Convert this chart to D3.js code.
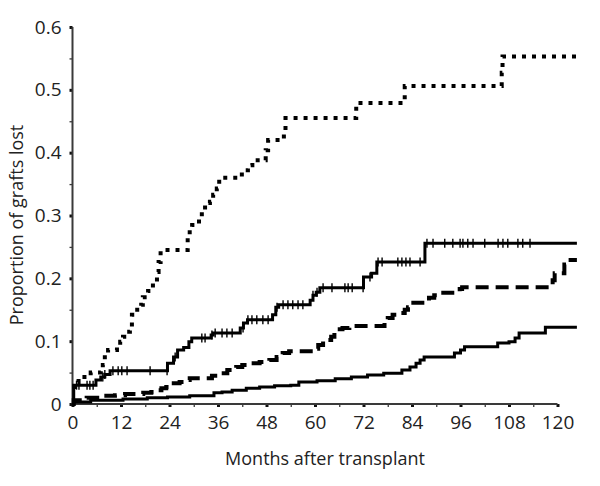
<!DOCTYPE html>
<html>
<head>
<meta charset="utf-8">
<script src="https://cdn.jsdelivr.net/npm/d3@7/dist/d3.min.js"></script>
<style>
  html, body { margin: 0; padding: 0; background: #fff; }
  svg { display: block; }
  text { font-family: "Open Sans", "Noto Sans", sans-serif; fill: #222; }
</style>
</head>
<body>
<svg id="chart" width="600" height="486"></svg>
<script>
// ---------- data (months, proportion) ----------
const xTickLabels = [0, 12, 24, 36, 48, 60, 72, 84, 96, 108, 120];
const yTickLabels = [0, 0.1, 0.2, 0.3, 0.4, 0.5, 0.6];
const endMonth = 124.8;

// dotted series (highest)
const dottedT = [0, 0.5, 1.5, 4.5, 7, 7.5, 8.0, 8.8, 11, 11.8, 12.5, 13.5, 14.2, 14.7, 15.5, 17.0, 17.4, 18.7, 19.9, 20.9, 21.3, 21.8, 28.5, 29.0, 29.6, 31.3, 32.0, 32.8, 34.0, 34.8, 35.7, 36.3, 41.9, 43.4, 44.5, 47.8, 48.4, 52.3, 52.7, 70.2, 82.2, 106.2, 106.4];
const dottedV = [0.027, 0.035, 0.043, 0.05, 0.057, 0.062, 0.078, 0.086, 0.09, 0.099, 0.107, 0.115, 0.123, 0.142, 0.15, 0.158, 0.17, 0.18, 0.194, 0.21, 0.226, 0.245, 0.264, 0.28, 0.285, 0.296, 0.306, 0.32, 0.322, 0.333, 0.343, 0.36, 0.372, 0.38, 0.388, 0.404, 0.42, 0.436, 0.455, 0.479, 0.506, 0.527, 0.553];

// solid series with censor marks
const censT = [0, 0.3, 5.8, 7.0, 8.0, 9.3, 23.5, 25.0, 26.0, 27.5, 28.8, 29.5, 34.3, 34.8, 41.5, 42.3, 43.3, 49.5, 50.3, 51.0, 58.8, 59.5, 60.3, 61.2, 72.0, 74.0, 75.3, 87.2];
const censV = [0, 0.030, 0.038, 0.043, 0.047, 0.053, 0.065, 0.075, 0.086, 0.09, 0.099, 0.105, 0.11, 0.113, 0.121, 0.129, 0.134, 0.142, 0.154, 0.158, 0.165, 0.173, 0.178, 0.185, 0.202, 0.208, 0.226, 0.256];
const censMarks = [1.0, 1.6, 3.6, 4.3, 5.1, 7.5, 8.0, 10.0, 11.3, 12.2, 13.5, 19.2, 23.4, 25.4, 32.0, 32.8, 34.5, 35.3, 37.0, 38.2, 39.5, 42.2, 43.4, 44.4, 45.6, 47.1, 48.4, 50.6, 52.1, 53.3, 54.5, 55.8, 57.0, 59.5, 60.5, 62.0, 64.2, 67.4, 68.2, 69.2, 71.9, 73.6, 75.6, 76.6, 80.5, 81.5, 82.5, 83.5, 86.0, 87.7, 89.2, 92.1, 94.1, 95.9, 96.6, 97.8, 99.1, 102.0, 105.3, 106.5, 107.7, 110.2, 111.4, 113.2];

// dashed series
const dashedT = [0, 0.3, 3.5, 7.0, 10.5, 13.0, 17.5, 19.5, 21.0, 22.0, 23.2, 24.5, 26.5, 27.5, 29.0, 34.5, 36.3, 38.3, 40.5, 42.0, 43.7, 46.3, 48.7, 50.5, 52.0, 53.6, 59.8, 60.8, 62.0, 64.0, 64.8, 65.6, 66.8, 68.5, 77.2, 78.0, 79.2, 80.8, 82.2, 83.0, 83.8, 88.2, 89.5, 90.3, 95.8, 96.4, 118.8, 119.3, 121.7, 122.2];
const dashedV = [0, 0.006, 0.01, 0.013, 0.014, 0.016, 0.018, 0.019, 0.022, 0.025, 0.027, 0.033, 0.035, 0.038, 0.041, 0.045, 0.049, 0.054, 0.059, 0.062, 0.065, 0.067, 0.07, 0.075, 0.081, 0.084, 0.088, 0.094, 0.102, 0.107, 0.115, 0.119, 0.121, 0.124, 0.129, 0.137, 0.142, 0.145, 0.15, 0.154, 0.161, 0.169, 0.173, 0.177, 0.183, 0.186, 0.197, 0.208, 0.222, 0.229];

// lowest solid series
const lowT = [0, 0.3, 4.5, 12.5, 18.5, 23.5, 29.0, 35.0, 37.0, 39.5, 43.0, 46.3, 50.0, 54.0, 56.0, 60.5, 65.0, 69.0, 73.0, 77.0, 81.5, 83.5, 85.0, 86.0, 87.0, 94.5, 96.0, 97.0, 105.2, 108.0, 109.5, 110.5, 117.0];
const lowV = [0, 0.003, 0.006, 0.008, 0.010, 0.011, 0.013, 0.018, 0.019, 0.022, 0.025, 0.027, 0.029, 0.030, 0.035, 0.037, 0.040, 0.043, 0.046, 0.049, 0.054, 0.059, 0.065, 0.070, 0.075, 0.081, 0.086, 0.091, 0.097, 0.099, 0.105, 0.113, 0.122];

// ---------- layout ----------
const svg = d3.select("#chart");
const x = d3.scaleLinear().domain([0, 120]).range([72.5, 557.5]);
const y = d3.scaleLinear().domain([0, 0.6]).range([404, 27]);

function pts(T, V) {
  const p = T.map((t, i) => [t, V[i]]);
  p.push([endMonth, V[V.length - 1]]);
  return p;
}
const line = d3.line().x(d => x(d[0])).y(d => y(d[1])).curve(d3.curveStepAfter);

// ---------- axes ----------
const axisColor = "#3a3a3a";
const gx = svg.append("g").attr("transform", "translate(0,404)");
gx.call(d3.axisBottom(x).tickValues(d3.range(6, 120, 12)).tickSize(3).tickFormat(""))
  .call(g => g.select(".domain").remove())
  .selectAll("line").attr("stroke", axisColor).attr("stroke-width", 1.3);
const gx2 = svg.append("g").attr("transform", "translate(0,404)");
gx2.call(d3.axisBottom(x).tickValues(xTickLabels).tickSize(3).tickPadding(9).tickFormat(d3.format("d")))
  .call(g => g.select(".domain").remove());
gx2.selectAll("line").attr("stroke", "#111").attr("stroke-width", 3);
gx2.selectAll("text").attr("font-size", 19).attr("fill", "#222")
  .style("font-family", '"Open Sans", sans-serif');

const gy = svg.append("g").attr("transform", "translate(72.5,0)");
gy.call(d3.axisLeft(y).tickValues(d3.range(0.05, 0.6, 0.1)).tickSize(3).tickFormat(""))
  .call(g => g.select(".domain").remove())
  .selectAll("line").attr("stroke", axisColor).attr("stroke-width", 1.3);
const gy2 = svg.append("g").attr("transform", "translate(72.5,0)");
gy2.call(d3.axisLeft(y).tickValues(yTickLabels).tickSize(3).tickPadding(8).tickFormat(d => d === 0 ? "0" : d3.format(".1f")(d)))
  .call(g => g.select(".domain").remove());
gy2.selectAll("line").attr("stroke", "#111").attr("stroke-width", 3);
gy2.selectAll("text").attr("font-size", 19).attr("fill", "#222")
  .style("font-family", '"Open Sans", sans-serif');

// axis lines
svg.append("line").attr("x1", x(0)).attr("x2", x(120)).attr("y1", y(0)).attr("y2", y(0))
  .attr("stroke", axisColor).attr("stroke-width", 2);
svg.append("line").attr("x1", x(0)).attr("x2", x(0)).attr("y1", y(0)).attr("y2", y(0.6))
  .attr("stroke", axisColor).attr("stroke-width", 2);

// axis titles
svg.append("text").attr("x", 325).attr("y", 465).attr("text-anchor", "middle")
  .attr("font-size", 18).text("Months after transplant");
svg.append("text").attr("transform", "translate(23,225) rotate(-90)").attr("text-anchor", "middle")
  .attr("font-size", 18).text("Proportion of grafts lost");

// ---------- series ----------
svg.append("path").datum(pts(lowT, lowV)).attr("d", line)
  .attr("fill", "none").attr("stroke", "#000").attr("stroke-width", 3);

svg.append("path").datum(pts(dashedT, dashedV)).attr("d", line)
  .attr("fill", "none").attr("stroke", "#000").attr("stroke-width", 4)
  .attr("stroke-dasharray", "13,7");

svg.append("path").datum(pts(censT, censV)).attr("d", line)
  .attr("fill", "none").attr("stroke", "#000").attr("stroke-width", 3);

const bis = d3.bisector(d => d).right;
function stepVal(T, V, t) { const i = bis(T, t) - 1; return V[Math.max(0, i)]; }
svg.append("g").selectAll("line").data(censMarks).join("line")
  .attr("x1", d => x(d)).attr("x2", d => x(d))
  .attr("y1", d => y(stepVal(censT, censV, d)) - 4.5)
  .attr("y2", d => y(stepVal(censT, censV, d)) + 4.5)
  .attr("stroke", "#000").attr("stroke-width", 1.4);

svg.append("path").datum(pts(dottedT, dottedV)).attr("d", line)
  .attr("fill", "none").attr("stroke", "#000").attr("stroke-width", 4)
  .attr("stroke-dasharray", "4,6");
</script>
</body>
</html>
